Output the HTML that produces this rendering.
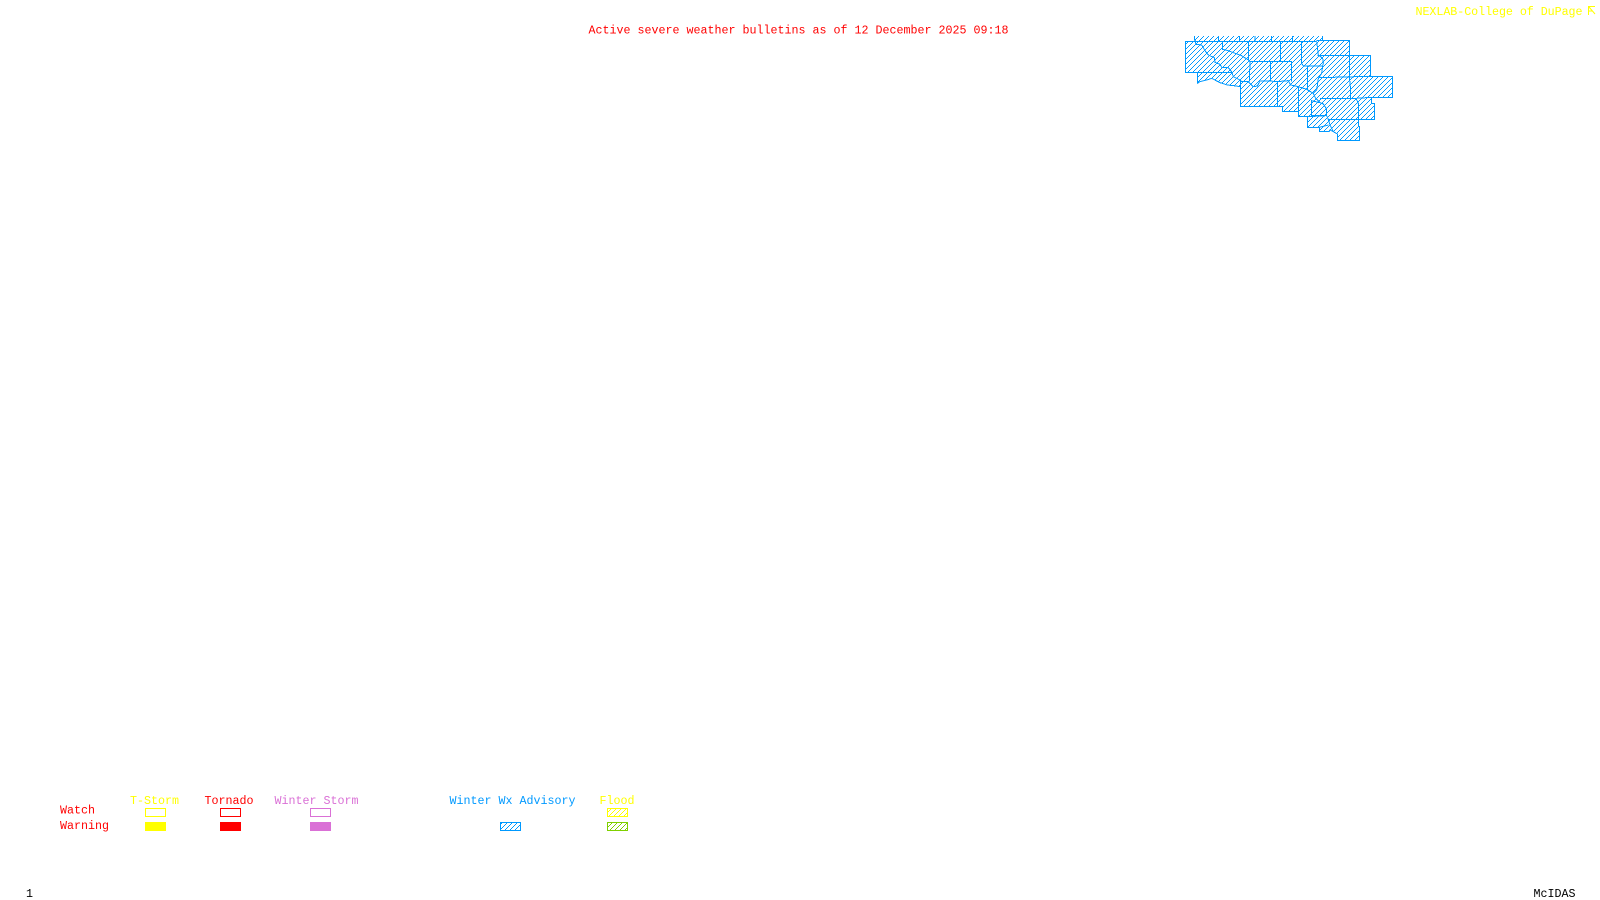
<!DOCTYPE html>
<html><head><meta charset="utf-8"><title>Active severe weather bulletins</title>
<style>
html,body{margin:0;padding:0;background:#fff;width:1600px;height:900px;overflow:hidden}
svg{display:block}
text{font-family:"Liberation Mono",monospace;font-size:11.67px;white-space:pre}
</style></head><body>
<svg width="1600" height="900" viewBox="0 0 1600 900" xmlns="http://www.w3.org/2000/svg">
<defs>
<pattern id="hm" width="15" height="15" patternUnits="userSpaceOnUse">
<path shape-rendering="crispEdges" d="M12 0h3v3h-3zM9 3h3v3h-3zM6 6h3v3h-3zM3 9h3v3h-3zM0 12h3v3h-3z" fill="#0099ff"/>
</pattern>
<pattern id="hb" width="5" height="5" patternUnits="userSpaceOnUse"><path d="M4 0h1v1h-1zM3 1h1v1h-1zM2 2h1v1h-1zM1 3h1v1h-1zM0 4h1v1h-1z" fill="#0099ff"/></pattern>
<pattern id="hy" width="5" height="5" patternUnits="userSpaceOnUse"><path d="M4 0h1v1h-1zM3 1h1v1h-1zM2 2h1v1h-1zM1 3h1v1h-1zM0 4h1v1h-1z" fill="#ffff00"/></pattern>
<pattern id="hg" width="5" height="5" patternUnits="userSpaceOnUse"><path d="M4 0h1v1h-1zM3 1h1v1h-1zM2 2h1v1h-1zM1 3h1v1h-1zM0 4h1v1h-1z" fill="#7fd000"/></pattern>
</defs>
<rect width="1600" height="900" fill="#fff"/>

<text x="588.5" y="33.5" fill="#ff0000" textLength="420">Active severe weather bulletins as of 12 December 2025 09:18</text>
<text x="1415.500" y="15" fill="#ffff00" textLength="167">NEXLAB-College of DuPage</text>
<path d="M1588.500 15V6.500H1595M1589 7L1595 14M1589 11H1592" fill="none" stroke="#ffff00" stroke-width="1"/>

<g transform="translate(1170 30) scale(.33333)">
<polygon shape-rendering="crispEdges" fill="url(#hm)" points="73,18 458,18 458,31 538,31 538,76 601,76 601,139 667,139 667,202 604,202 604,220 613,220 613,268 565,268 565,290 568,290 568,331 502,331 502,312 490,305 480,300 478,304 448,304 448,292 412,292 412,260 385,260 385,244 337,244 337,229 211,229 211,170 190,167 172,165 150,158 125,145 110,150 90,155 83,160 82,127 46,127 46,34 75,34"/>
<g fill="none" stroke="#0099ff" stroke-width="3" stroke-linejoin="miter" shape-rendering="crispEdges">
<path d="M73 18V30L78 34H46V127H82V160L90 155L110 150L125 145L150 158L172 165L190 167L211 170V229H337V244H385V260H412V292H448V304H478L480 300L490 305L502 312V331H568V290H565V268H613V220H604V202H667V139H601V76H538V31H440"/>
<path d="M46 34H440"/>
<path d="M145 18V34M208 18V34M255 18V34M305 18V34M367 18V34M458 18V31"/>
<path d="M75 34L78 43L95 45L105 62L115 75L133 83L135 97L150 103L155 112L175 113L185 125L190 140L210 150L215 155L235 155L250 170L262 168L270 153L300 153L320 155L355 152L362 165L385 170L410 178L430 190"/>
<path d="M82 127H185"/>
<path d="M211 150V170"/>
<path d="M157 34V58L175 62L190 68L215 77L235 90L240 95H365V108"/>
<path d="M235 34V90M240 95L238 155M332 34V95M302 95V153M365 108V155M322 155V229M385 170V244M412 110V178"/>
<path d="M395 34V100L400 108H458"/>
<path d="M440 34L442 50L445 75L458 85L460 100L458 108L455 130L445 145L440 180L430 190L437 205L450 218"/>
<path d="M442 76H538V140L542 180V205M448 143L601 139"/>
<path d="M450 205H558L604 202M558 205L565 220V268"/>
<path d="M425 210V257H470V238L460 222L450 218L425 212"/>
<path d="M412 260L470 257L475 268H565M475 268L480 285L490 305M448 292L475 285"/>
</g>
</g>

<text x="130" y="804" fill="#ffff00" textLength="49">T-Storm</text>
<text x="204.5" y="804" fill="#ff0000" textLength="49">Tornado</text>
<text x="274.500" y="804" fill="#da70d6" textLength="84">Winter Storm</text>
<text x="449.500" y="804" fill="#0099ff" textLength="126">Winter Wx Advisory</text>
<text x="599.500" y="804" fill="#ffff00" textLength="35">Flood</text>
<text x="60" y="813.400" fill="#ff0000" textLength="35">Watch</text>
<text x="60" y="829" fill="#ff0000" textLength="49">Warning</text>

<g shape-rendering="crispEdges">
<rect x="145.500" y="808.500" width="20" height="8" fill="none" stroke="#ffff00"/>
<rect x="145" y="822" width="21" height="9" fill="#ffff00"/>
<rect x="220.500" y="808.500" width="20" height="8" fill="none" stroke="#ff0000"/>
<rect x="220" y="822" width="21" height="9" fill="#ff0000"/>
<rect x="310.500" y="808.500" width="20" height="8" fill="none" stroke="#da70d6"/>
<rect x="310" y="822" width="21" height="9" fill="#da70d6"/>
<rect x="500.500" y="822.500" width="20" height="8" fill="url(#hb)" stroke="#0099ff"/>
<rect x="607.500" y="808.500" width="20" height="8" fill="url(#hy)" stroke="#ffff00"/>
<rect x="607.500" y="822.500" width="20" height="8" fill="url(#hg)" stroke="#7fd000"/>
</g>

<text x="26" y="897" fill="#000">1</text>
<text x="1533.500" y="897" fill="#000" textLength="42">McIDAS</text>
</svg>
</body></html>
